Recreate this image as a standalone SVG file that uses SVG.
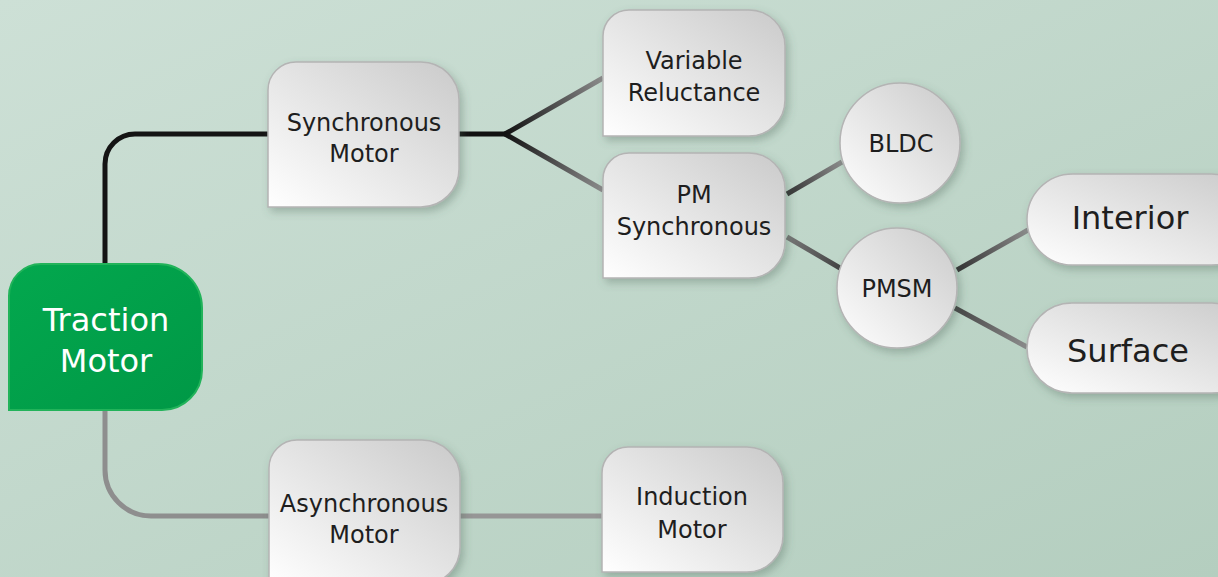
<svg xmlns="http://www.w3.org/2000/svg" width="1218" height="577" viewBox="0 0 1218 577">
<defs>
<linearGradient id="bg" x1="0" y1="0" x2="1" y2="1">
<stop offset="0" stop-color="#cde0d6"/>
<stop offset="1" stop-color="#b4cebf"/>
</linearGradient>
<linearGradient id="nodeFill" x1="0" y1="1" x2="1" y2="0">
<stop offset="0" stop-color="#ffffff"/>
<stop offset="1" stop-color="#cacaca"/>
</linearGradient>
<linearGradient id="greenFill" x1="0" y1="0" x2="1" y2="1">
<stop offset="0" stop-color="#03a84e"/>
<stop offset="1" stop-color="#009846"/>
</linearGradient>
<linearGradient id="gVR" gradientUnits="userSpaceOnUse" x1="505" y1="134" x2="603" y2="78">
<stop offset="0" stop-color="#111"/><stop offset="1" stop-color="#8c8c8c"/>
</linearGradient>
<linearGradient id="gPM" gradientUnits="userSpaceOnUse" x1="505" y1="134" x2="603" y2="190">
<stop offset="0" stop-color="#111"/><stop offset="1" stop-color="#8c8c8c"/>
</linearGradient>
<linearGradient id="gBL" gradientUnits="userSpaceOnUse" x1="787" y1="194" x2="842" y2="162">
<stop offset="0" stop-color="#333"/><stop offset="1" stop-color="#8c8c8c"/>
</linearGradient>
<linearGradient id="gPS" gradientUnits="userSpaceOnUse" x1="787" y1="237" x2="840" y2="268">
<stop offset="0" stop-color="#777"/><stop offset="1" stop-color="#444"/>
</linearGradient>
<linearGradient id="gIN" gradientUnits="userSpaceOnUse" x1="957" y1="270" x2="1028" y2="230">
<stop offset="0" stop-color="#333"/><stop offset="1" stop-color="#8c8c8c"/>
</linearGradient>
<linearGradient id="gSU" gradientUnits="userSpaceOnUse" x1="955" y1="308" x2="1027" y2="347">
<stop offset="0" stop-color="#444"/><stop offset="1" stop-color="#8c8c8c"/>
</linearGradient>
<filter id="sh" x="-20%" y="-20%" width="150%" height="150%">
<feDropShadow dx="3" dy="4" stdDeviation="4" flood-color="#486455" flood-opacity="0.35"/>
</filter>
</defs>
<style>
.node{fill:url(#nodeFill);stroke:#b4b4b4;stroke-width:1.5;filter:url(#sh)}
.lbl{font-family:"DejaVu Sans",sans-serif;font-size:24px;fill:#1e1e1e;text-anchor:middle}
.big{font-size:32px}
.wht{fill:#ffffff}
.con{fill:none;stroke-width:5}
</style>
<rect x="0" y="0" width="1218" height="577" fill="url(#bg)"/>
<g id="connectors">
<path class="con" stroke="#141414" d="M105 264 V164 A30 30 0 0 1 135 134 H268"/>
<path class="con" stroke="#8e8e8e" d="M105 410 V470 A46 46 0 0 0 151 516 H269"/>
<path class="con" stroke="#969696" d="M460 516 H602"/>
<path class="con" stroke="#111" d="M459 134 H505"/>
<path class="con" stroke="url(#gVR)" d="M505 134 L603 78"/>
<path class="con" stroke="url(#gPM)" d="M505 134 L603 190"/>
<path class="con" stroke="url(#gBL)" d="M787 194 L842 162"/>
<path class="con" stroke="url(#gPS)" d="M787 237 L840 268"/>
<path class="con" stroke="url(#gIN)" d="M957 270 L1028 230"/>
<path class="con" stroke="url(#gSU)" d="M955 308 L1027 347"/>
</g>
<g id="traction">
<path d="M9 296 A32 32 0 0 1 41 264 H158 A44 44 0 0 1 202 308 V370 A40 40 0 0 1 162 410 H9 Z" fill="url(#greenFill)" stroke="#22b35a" stroke-width="2"/>
<text class="lbl big wht" x="106" y="331">Traction</text>
<text class="lbl big wht" x="106" y="372">Motor</text>
</g>
<g id="synchronous">
<path class="node" d="M268 90 A28 28 0 0 1 296 62 H421 A38 38 0 0 1 459 100 V169 A38 38 0 0 1 421 207 H268 Z"/>
<text class="lbl" x="364" y="131">Synchronous</text>
<text class="lbl" x="364" y="162">Motor</text>
</g>
<g id="variable-reluctance">
<path class="node" d="M603 36 A26 26 0 0 1 629 10 H749 A36 36 0 0 1 785 46 V100 A36 36 0 0 1 749 136 H603 Z"/>
<text class="lbl" x="694" y="69">Variable</text>
<text class="lbl" x="694" y="101">Reluctance</text>
</g>
<g id="pm-synchronous">
<path class="node" d="M603 179 A26 26 0 0 1 629 153 H749 A36 36 0 0 1 785 189 V242 A36 36 0 0 1 749 278 H603 Z"/>
<text class="lbl" x="694" y="203">PM</text>
<text class="lbl" x="694" y="235">Synchronous</text>
</g>
<g id="bldc">
<circle class="node" cx="900" cy="143" r="60"/>
<text class="lbl" x="901" y="152">BLDC</text>
</g>
<g id="pmsm">
<circle class="node" cx="897" cy="288" r="60"/>
<text class="lbl" x="897" y="297">PMSM</text>
</g>
<g id="interior">
<rect class="node" x="1027" y="174" width="230" height="91" rx="45.5"/>
<text class="lbl big" x="1130" y="229">Interior</text>
</g>
<g id="surface">
<rect class="node" x="1027" y="303" width="230" height="90" rx="45"/>
<text class="lbl big" x="1128" y="362">Surface</text>
</g>
<g id="asynchronous">
<path class="node" d="M269 468 A28 28 0 0 1 297 440 H422 A38 38 0 0 1 460 478 V547 A38 38 0 0 1 422 585 H269 Z"/>
<text class="lbl" x="364" y="512">Asynchronous</text>
<text class="lbl" x="364" y="543">Motor</text>
</g>
<g id="induction">
<path class="node" d="M602 473 A26 26 0 0 1 628 447 H747 A36 36 0 0 1 783 483 V536 A36 36 0 0 1 747 572 H602 Z"/>
<text class="lbl" x="692" y="505">Induction</text>
<text class="lbl" x="692" y="538">Motor</text>
</g>
</svg>
